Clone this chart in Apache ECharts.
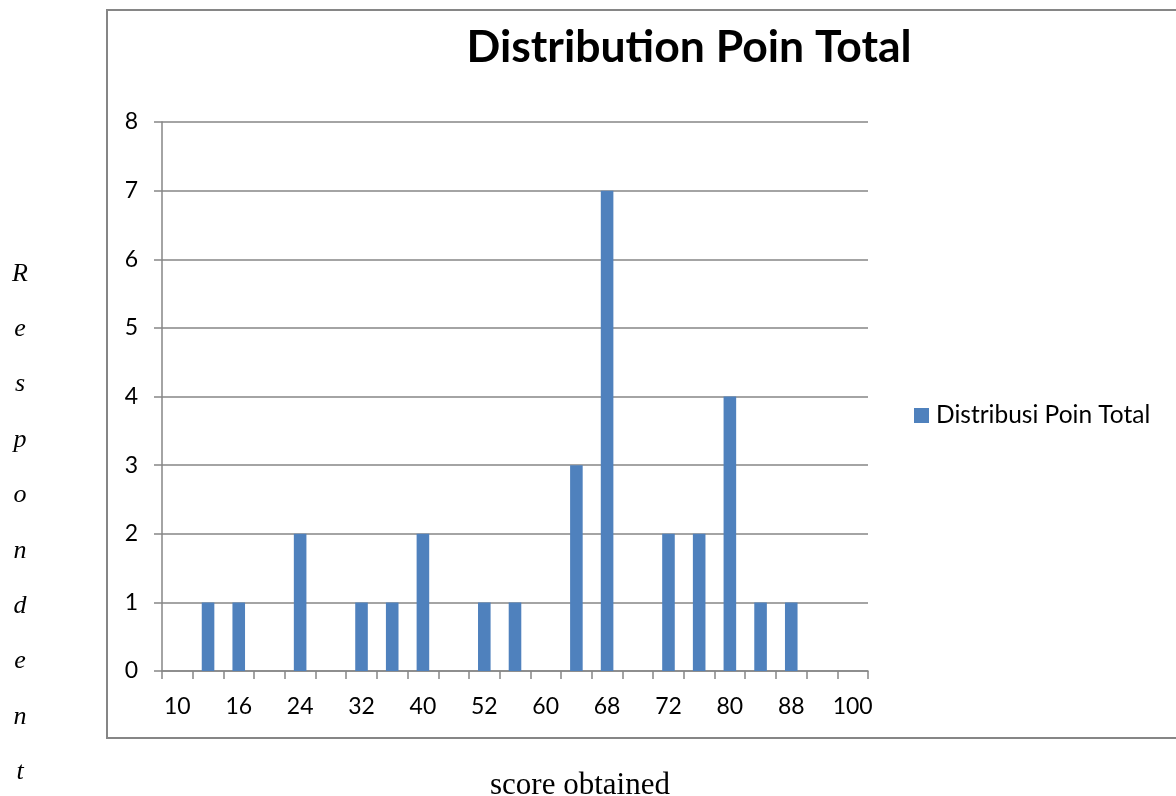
<!DOCTYPE html>
<html>
<head>
<meta charset="utf-8">
<script src="https://cdn.jsdelivr.net/npm/echarts@6/dist/echarts.min.js"></script>
<style>
  html, body { margin: 0; padding: 0; background: #ffffff; }
  #chart { width: 1176px; height: 796px; }
</style>
</head>
<body>
<div id="chart"></div>
<script>
// Score categories (every other one is labelled on the axis)
const scores = ['10', '12', '16', '20', '24', '28', '32', '36', '40', '48', '52', '56',
                '60', '64', '68', '70', '72', '76', '80', '84', '88', '96', '100'];
// Number of respondents per score
const respondents = [0, 1, 1, 0, 2, 0, 1, 1, 2, 0, 1, 1, 0, 3, 7, 0, 2, 2, 4, 1, 1, 0, 0];
const seriesName = 'Distribusi Poin Total';
const titleText = 'Distribution Poin Total';
const yName = 'Respondent';
const xName = 'score obtained';
const yTicks = { min: 0, max: 8, interval: 1 };

const axisGray = '#868686';
const barBlue = '#4f81bd';
const uiFont = 'Lato, "Open Sans", "Noto Sans", sans-serif';
const serifFont = '"Liberation Serif", "DejaVu Serif", serif';

const chart = echarts.init(document.getElementById('chart'), null, { renderer: 'canvas' });

chart.setOption({
  backgroundColor: '#ffffff',
  animation: false,
  title: {
    text: titleText,
    left: 684,
    top: 20,
    textAlign: 'center',
    textStyle: { fontFamily: uiFont, fontWeight: 'bold', fontSize: 44.5, color: '#000000' }
  },
  legend: {
    data: [seriesName],
    left: 914,
    top: 403,
    padding: 0,
    icon: 'rect',
    itemWidth: 15,
    itemHeight: 15,
    itemGap: 7,
    textStyle: { fontFamily: uiFont, fontSize: 24.5, color: '#000000', padding: [0, 0, 0, 2] }
  },
  grid: { left: 162, right: 308, top: 122, bottom: 125, containLabel: false },
  xAxis: {
    type: 'category',
    data: scores,
    boundaryGap: true,
    axisLine: { lineStyle: { color: axisGray, width: 1.5 } },
    axisTick: { show: true, interval: 0, length: 8, lineStyle: { color: axisGray, width: 1.5 } },
    axisLabel: { interval: 1, margin: 24, fontFamily: uiFont, fontSize: 23, color: '#000000' },
    splitLine: { show: false }
  },
  yAxis: {
    type: 'value',
    min: yTicks.min,
    max: yTicks.max,
    interval: yTicks.interval,
    axisLine: { show: true, lineStyle: { color: axisGray, width: 1.5 } },
    axisTick: { show: true, length: 8, lineStyle: { color: axisGray, width: 1.5 } },
    axisLabel: { margin: 24, fontFamily: uiFont, fontSize: 23, color: '#000000' },
    splitLine: { show: true, lineStyle: { color: axisGray, width: 1.5 } }
  },
  series: [{
    name: seriesName,
    type: 'bar',
    data: respondents,
    barWidth: '41%',
    itemStyle: { color: barBlue }
  }],
  graphic: [
    {
      type: 'rect',
      shape: { x: 107, y: 10, width: 1100, height: 728 },
      style: { fill: 'none', stroke: axisGray, lineWidth: 2 },
      z: -1
    },
    {
      type: 'text',
      x: 20,
      y: 246,
      style: {
        text: yName.split('').join('\n'),
        font: 'italic 26px ' + serifFont,
        lineHeight: 55.4,
        fill: '#000000',
        align: 'center'
      }
    },
    {
      type: 'text',
      x: 580,
      y: 770,
      style: {
        text: xName,
        font: '31px ' + serifFont,
        fill: '#000000',
        align: 'center'
      }
    }
  ]
});
</script>
</body>
</html>
